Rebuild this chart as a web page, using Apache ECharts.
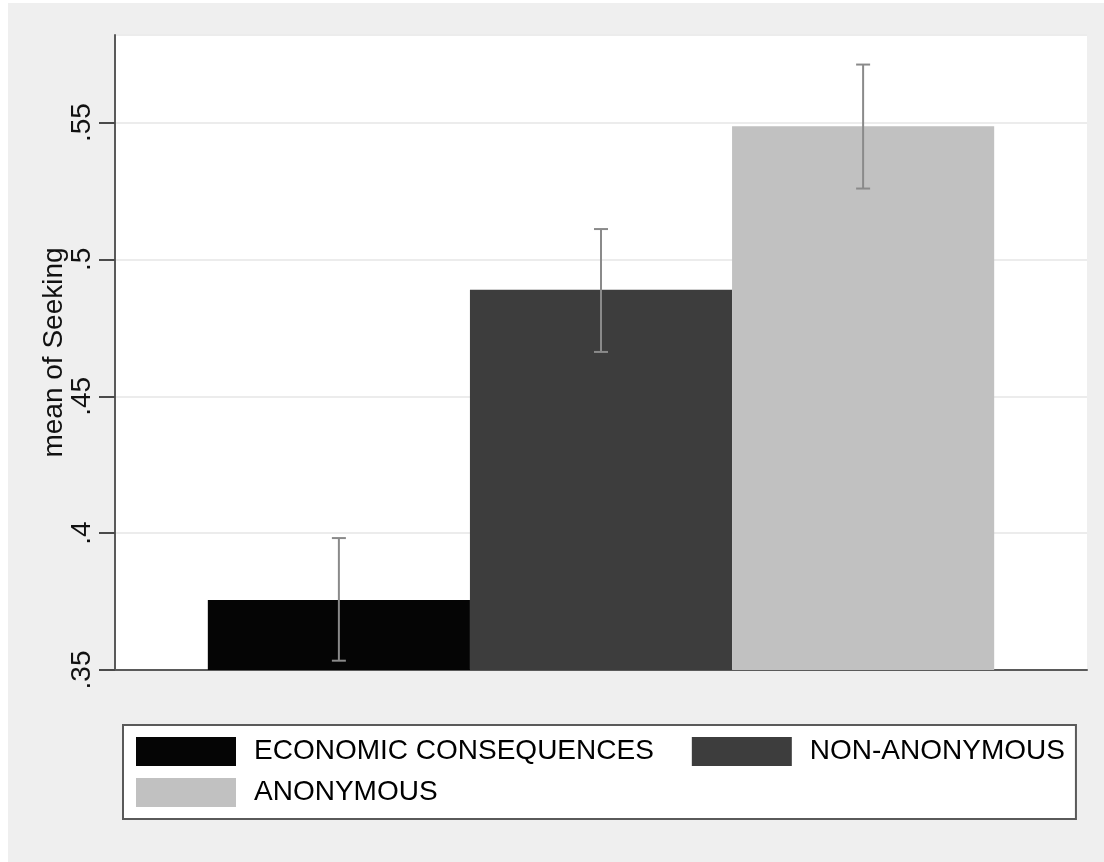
<!DOCTYPE html>
<html>
<head>
<meta charset="utf-8">
<script src="https://cdn.jsdelivr.net/npm/echarts@6/dist/echarts.min.js"></script>
<style>
  html, body { margin: 0; padding: 0; background: #ffffff; }
  #chart { position: absolute; left: 8px; top: 3px; width: 1096px; height: 859px; background: #efefef; }
</style>
</head>
<body>
<div id="chart"></div>
<script>
// ---- data ----
const seriesNames = ['ECONOMIC CONSEQUENCES', 'NON-ANONYMOUS', 'ANONYMOUS'];
const seriesMeans = [0.3756, 0.4889, 0.5487];
const ciLow = [0.3534, 0.4662, 0.5259];
const ciHigh = [0.3982, 0.5111, 0.5712];
const yTickValues = [0.35, 0.4, 0.45, 0.5, 0.55];
const yTickLabels = ['.35', '.4', '.45', '.5', '.55'];
const yAxisTitle = 'mean of Seeking';

// ---- style ----
const barColors = ['#050505', '#3d3d3d', '#c1c1c1'];
const FONT = "'Liberation Sans', Arial, Helvetica, sans-serif";
const CAT_GAP = 0.191;

const chart = echarts.init(document.getElementById('chart'));

const barSeries = seriesNames.map((name, i) => ({
  name: name,
  type: 'bar',
  data: [seriesMeans[i]],
  barGap: '0%',
  barCategoryGap: (CAT_GAP * 100) + '%',
  itemStyle: { color: barColors[i] },
  emphasis: { disabled: true },
  animation: false
}));

const errData = seriesNames.map((n, i) => [0, ciLow[i], ciHigh[i], i]);

const errSeries = {
  type: 'custom',
  name: 'ci',
  data: errData,
  encode: { x: 0, y: [1, 2] },
  z: 5,
  animation: false,
  renderItem: function (params, api) {
    const band = api.size([1, 0])[0];
    const w = band * (1 - CAT_GAP) / seriesNames.length;
    const idx = api.value(3);
    const base = api.coord([0, api.value(1)]);
    const top = api.coord([0, api.value(2)]);
    const cx = base[0] + (idx - (seriesNames.length - 1) / 2) * w;
    const cap = 7;
    const st = { stroke: '#8a8a8a', lineWidth: 2 };
    return {
      type: 'group',
      children: [
        { type: 'line', shape: { x1: cx, y1: base[1], x2: cx, y2: top[1] }, style: st },
        { type: 'line', shape: { x1: cx - cap, y1: base[1], x2: cx + cap, y2: base[1] }, style: st },
        { type: 'line', shape: { x1: cx - cap, y1: top[1], x2: cx + cap, y2: top[1] }, style: st }
      ]
    };
  }
};

chart.setOption({
  animation: false,
  backgroundColor: '#efefef',
  grid: {
    left: 107, top: 32, right: 17, bottom: 192,
    show: true, backgroundColor: '#ffffff', borderWidth: 0,
    containLabel: false
  },
  legend: {
    data: seriesNames,
    left: 115, top: 722,
    orient: 'horizontal',
    width: 960,
    padding: [12, 11, 12, 13],
    itemGap: 12,
    itemWidth: 100,
    itemHeight: 29,
    borderColor: '#5a5a5a',
    borderWidth: 2,
    backgroundColor: '#ffffff',
    borderRadius: 0,
    selectedMode: false,
    icon: 'rect',
    formatter: function (name) {
      return name === seriesNames[0] ? '{wide|' + name + '}' : name;
    },
    textStyle: {
      fontFamily: FONT, fontSize: 28, color: '#000', lineHeight: 29,
      padding: [0, 0, 0, 13],
      rich: {
        wide: { fontFamily: FONT, fontSize: 28, color: '#000', lineHeight: 29, padding: [0, 26, 0, 0] }
      }
    }
  },
  xAxis: {
    type: 'category',
    data: [''],
    axisLine: { show: true, lineStyle: { color: '#5a5a5a', width: 2 } },
    axisTick: { show: false },
    axisLabel: { show: false },
    splitLine: { show: false }
  },
  yAxis: {
    type: 'value',
    min: 0.35,
    max: 0.582,
    interval: 0.05,
    name: yAxisTitle,
    nameLocation: 'middle',
    nameGap: 47,
    nameRotate: 90,
    nameMoveOverlap: false,
    nameTextStyle: { fontFamily: FONT, fontSize: 28, color: '#111' },
    axisLine: { show: true, onZero: false, lineStyle: { color: '#5a5a5a', width: 2 } },
    axisTick: { show: true, inside: false, length: 16, lineStyle: { color: '#4a4a4a', width: 2 } },
    axisLabel: {
      show: true,
      rotate: 90,
      margin: 19,
      showMaxLabel: false,
      fontFamily: FONT, fontSize: 28, color: '#111',
      formatter: function (v) {
        for (let i = 0; i < yTickValues.length; i++) {
          if (Math.abs(yTickValues[i] - v) < 1e-9) return yTickLabels[i];
        }
        return '';
      }
    },
    splitLine: { show: true, lineStyle: { color: '#ececec', width: 2 } }
  },
  series: barSeries.concat([errSeries])
});
</script>
</body>
</html>
